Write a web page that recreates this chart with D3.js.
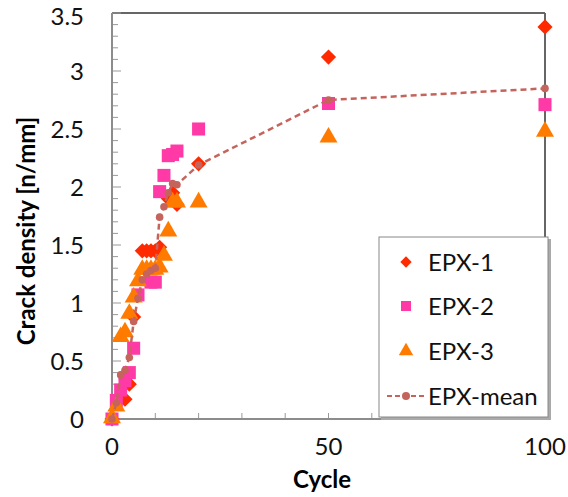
<!DOCTYPE html>
<html>
<head>
<meta charset="utf-8">
<script src="https://cdn.jsdelivr.net/npm/d3@7"></script>
<style>
  body { margin: 0; background: #fff; }
  svg text { font-family: Lato, "Open Sans", sans-serif; }
</style>
</head>
<body>
<svg width="568" height="497"></svg>
<script>
// data
const cyc1 = [0, 3, 4, 5, 7, 8, 9, 10, 11, 13, 14, 15, 20, 50, 100];
const epx1 = [0, 0.17, 0.3, 0.88, 1.45, 1.45, 1.45, 1.45, 1.48, 1.9, 1.95, 1.85, 2.2, 3.12, 3.38];

const cyc2 = [0, 1, 2, 3, 4, 5, 6, 9, 10, 11, 12, 13, 14, 15, 20, 50, 100];
const epx2 = [0, 0.16, 0.25, 0.33, 0.4, 0.61, 1.07, 1.18, 1.18, 1.96, 2.1, 2.27, 2.28, 2.31, 2.5, 2.72, 2.71];

const cyc3 = [0, 1, 2, 3, 4, 5, 6, 7, 8, 9, 10, 11, 12, 13, 14, 15, 20, 50, 100];
const epx3 = [0, 0.1, 0.7, 0.74, 0.9, 1.04, 1.18, 1.28, 1.28, 1.28, 1.28, 1.3, 1.4, 1.61, 1.86, 1.86, 1.86, 2.42, 2.47];

const cycM = [0, 1, 2, 3, 4, 5, 6, 7, 8, 9, 10, 11, 12, 13, 14, 15, 20, 50, 100];
const epxM = [0, 0.14, 0.38, 0.42, 0.53, 0.84, 1.04, 1.2, 1.25, 1.28, 1.3, 1.74, 1.83, 1.95, 2.03, 2.02, 2.19, 2.75, 2.85];

const xTicks = [0, 50, 100];
const yTicks = [0, 0.5, 1, 1.5, 2, 2.5, 3, 3.5];
const seriesNames = ["EPX-1", "EPX-2", "EPX-3", "EPX-mean"];

const svg = d3.select("svg");

const x = d3.scaleLinear().domain([0, 100]).range([112, 545]);
const y = d3.scaleLinear().domain([0, 3.5]).range([419, 13]);

const red = "#ff2a00", pink = "#ff39a6", orange = "#ff7b00", brown = "#c5645c";

// frame
svg.append("line").attr("x1", x(0)).attr("x2", x(100)).attr("y1", y(3.5)).attr("y2", y(3.5))
  .attr("stroke", "#333").attr("stroke-width", 1.5);
svg.append("line").attr("x1", x(100)).attr("x2", x(100)).attr("y1", y(3.5)).attr("y2", y(0))
  .attr("stroke", "#666").attr("stroke-width", 2);

// y axis with minor ticks inside
const yMinor = d3.range(0, 36).map(i => i / 10);
svg.selectAll(".ytick").data(yMinor).enter().append("line")
  .attr("x1", x(0)).attr("x2", d => x(0) + (Math.round(d * 10) % 5 === 0 ? 9 : 6))
  .attr("y1", d => y(d)).attr("y2", d => y(d))
  .attr("stroke", "#999").attr("stroke-width", 1);
svg.append("line").attr("x1", x(0)).attr("x2", x(0)).attr("y1", y(3.5)).attr("y2", y(0))
  .attr("stroke", "#8c8c8c").attr("stroke-width", 2);

svg.selectAll(".ylab").data(yTicks).enter().append("text")
  .attr("x", 84).attr("y", d => Math.max(y(d), 16)).attr("dy", "0.36em")
  .attr("text-anchor", "end").attr("font-size", 24).attr("fill", "#111")
  .text(d => d);

// x axis
const xMinor = d3.range(10, 100, 10);
svg.selectAll(".xtick").data(xMinor).enter().append("line")
  .attr("x1", d => x(d)).attr("x2", d => x(d))
  .attr("y1", y(0)).attr("y2", y(0) - 6)
  .attr("stroke", "#999").attr("stroke-width", 1);
svg.append("line").attr("x1", x(0)).attr("x2", x(100)).attr("y1", y(0)).attr("y2", y(0))
  .attr("stroke", "#8c8c8c").attr("stroke-width", 2);

svg.selectAll(".xlab").data(xTicks).enter().append("text")
  .attr("x", d => x(d)).attr("y", 455)
  .attr("text-anchor", "middle").attr("font-size", 24).attr("fill", "#111")
  .text(d => d);

svg.append("text").attr("x", 322).attr("y", 488).attr("text-anchor", "middle")
  .attr("font-size", 24).attr("font-weight", "bold").text("Cycle");
svg.append("text").attr("transform", "translate(35,231) rotate(-90)").attr("text-anchor", "middle")
  .attr("font-size", 24).attr("font-weight", "bold").text("Crack density [n/mm]");

// markers
const diamond = d3.symbol().type(d3.symbolSquare).size(115)();
const square = d3.symbol().type(d3.symbolSquare).size(170)();
const tri = d3.symbol().type(d3.symbolTriangle).size(140)();

function pts(cs, vs) { return cs.map((c, i) => ({c: c, v: vs[i]})); }

svg.selectAll(".s1").data(pts(cyc1, epx1)).enter().append("path")
  .attr("d", diamond).attr("fill", red)
  .attr("transform", d => `translate(${x(d.c)},${y(d.v)}) rotate(45)`);

svg.selectAll(".s2").data(pts(cyc2, epx2)).enter().append("path")
  .attr("d", square).attr("fill", pink)
  .attr("transform", d => `translate(${x(d.c)},${y(d.v)})`);

svg.selectAll(".s3").data(pts(cyc3, epx3)).enter().append("path")
  .attr("d", tri).attr("fill", orange)
  .attr("transform", d => `translate(${x(d.c)},${y(d.v) - 1})`);

const meanPts = pts(cycM, epxM);
svg.append("path").datum(meanPts)
  .attr("d", d3.line().x(d => x(d.c)).y(d => y(d.v)))
  .attr("fill", "none").attr("stroke", brown).attr("stroke-width", 2.5)
  .attr("stroke-dasharray", "6,4");
svg.selectAll(".sm").data(meanPts).enter().append("circle")
  .attr("cx", d => x(d.c)).attr("cy", d => y(d.v)).attr("r", 3.8).attr("fill", brown);

// legend
const lg = svg.append("g");
lg.append("rect").attr("x", 381).attr("y", 239).attr("width", 170).attr("height", 181).attr("fill", "#aaa");
lg.append("rect").attr("x", 379).attr("y", 237).attr("width", 169).attr("height", 180)
  .attr("fill", "#fff").attr("stroke", "#888").attr("stroke-width", 1);

const ly = [262, 306, 351, 396];
const li = lg.selectAll(".li").data(seriesNames).enter().append("g")
  .attr("transform", (d, i) => `translate(406,${ly[i]})`);
li.append("text").attr("x", 22).attr("dy", "0.36em").attr("font-size", 24).attr("fill", "#111").text(d => d);
li.filter((d, i) => i === 0).append("path").attr("d", d3.symbol().type(d3.symbolSquare).size(64)())
  .attr("transform", "rotate(45)").attr("fill", red);
li.filter((d, i) => i === 1).append("path").attr("d", d3.symbol().type(d3.symbolSquare).size(100)()).attr("fill", pink);
li.filter((d, i) => i === 2).append("path").attr("d", d3.symbol().type(d3.symbolTriangle).size(90)()).attr("fill", orange);
const lm = li.filter((d, i) => i === 3);
lm.append("line").attr("x1", -19).attr("x2", 19).attr("stroke", brown).attr("stroke-width", 2)
  .attr("stroke-dasharray", "5,3");
lm.append("circle").attr("r", 4).attr("fill", brown);
</script>
</body>
</html>
